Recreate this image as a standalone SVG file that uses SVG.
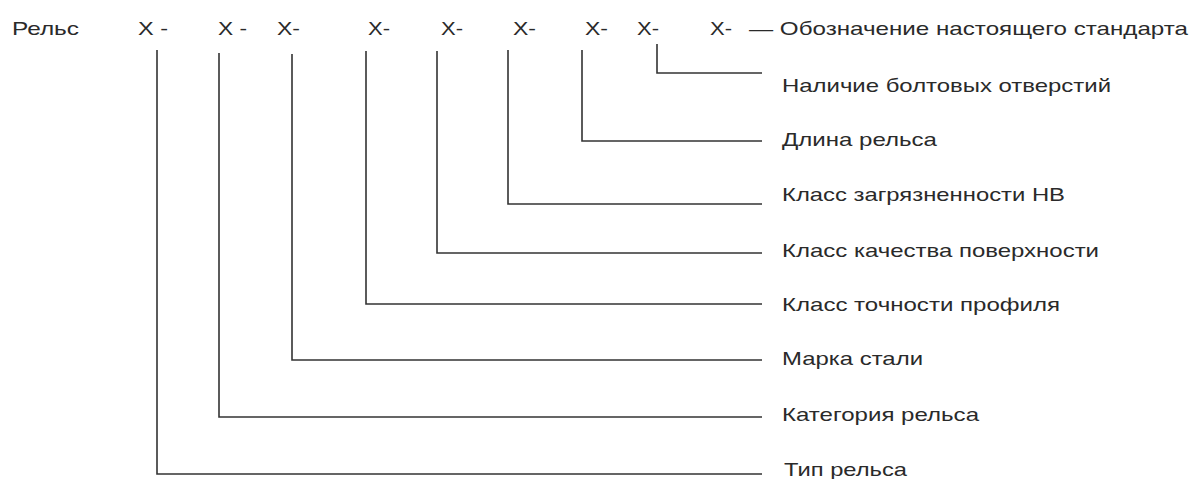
<svg xmlns="http://www.w3.org/2000/svg" width="1192" height="479" viewBox="0 0 1192 479">
<style>
text{font-family:"Liberation Sans",Arial,sans-serif;font-size:19px;fill:#2a2a2a}
.c{fill:none;stroke:#333;stroke-width:1.6}
</style>
<rect width="1192" height="479" fill="#fff"/>
<g id="header">
<text x="12" y="35" textLength="67" lengthAdjust="spacingAndGlyphs">Рельс</text>
<text x="138" y="35" textLength="30" lengthAdjust="spacingAndGlyphs">X -</text>
<text x="218" y="35" textLength="29" lengthAdjust="spacingAndGlyphs">X -</text>
<text x="277" y="35" textLength="23" lengthAdjust="spacingAndGlyphs">X-</text>
<text x="368" y="35" textLength="22" lengthAdjust="spacingAndGlyphs">X-</text>
<text x="441" y="35" textLength="22" lengthAdjust="spacingAndGlyphs">X-</text>
<text x="513" y="35" textLength="23" lengthAdjust="spacingAndGlyphs">X-</text>
<text x="585" y="35" textLength="23" lengthAdjust="spacingAndGlyphs">X-</text>
<text x="637" y="35" textLength="22" lengthAdjust="spacingAndGlyphs">X-</text>
<text x="710" y="35" textLength="22" lengthAdjust="spacingAndGlyphs">X-</text>
</g>
<g id="label-standard"><text x="749" y="35" textLength="439" lengthAdjust="spacingAndGlyphs">— Обозначение настоящего стандарта</text></g>
<g id="label-bolt"><text x="782" y="92" textLength="329" lengthAdjust="spacingAndGlyphs">Наличие болтовых отверстий</text></g>
<g id="label-length"><text x="782" y="146" textLength="155" lengthAdjust="spacingAndGlyphs">Длина рельса</text></g>
<g id="label-hb"><text x="782" y="201" textLength="283" lengthAdjust="spacingAndGlyphs">Класс загрязненности НВ</text></g>
<g id="label-surface"><text x="782" y="257" textLength="317" lengthAdjust="spacingAndGlyphs">Класс качества поверхности</text></g>
<g id="label-profile"><text x="782" y="311" textLength="278" lengthAdjust="spacingAndGlyphs">Класс точности профиля</text></g>
<g id="label-steel"><text x="782" y="365" textLength="141" lengthAdjust="spacingAndGlyphs">Марка стали</text></g>
<g id="label-category"><text x="782" y="421" textLength="197" lengthAdjust="spacingAndGlyphs">Категория рельса</text></g>
<g id="label-type"><text x="784" y="476" textLength="123" lengthAdjust="spacingAndGlyphs">Тип рельса</text></g>
<g id="connectors">
<polyline class="c" points="657,44 657,73 762,73"/>
<polyline class="c" points="582,50 582,141 762,141"/>
<polyline class="c" points="508,50 508,204 762,204"/>
<polyline class="c" points="437,51 437,253 762,253"/>
<polyline class="c" points="366,51 366,304 762,304"/>
<polyline class="c" points="292,54 292,360 762,360"/>
<polyline class="c" points="219,53 219,417 762,417"/>
<polyline class="c" points="157,50 157,474 762,474"/>
</g>
</svg>
